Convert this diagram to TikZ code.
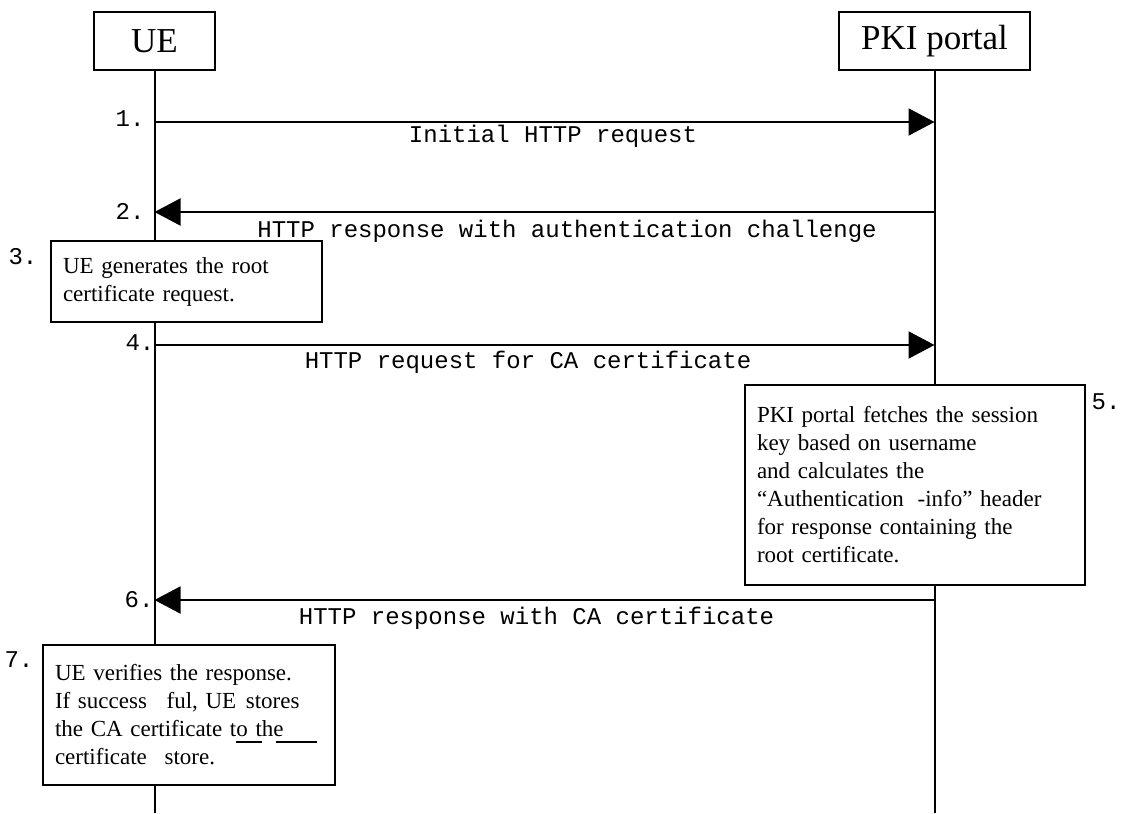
\documentclass[tikz,border=0pt]{standalone}
\usepackage{fontspec}
\setmainfont{Liberation Serif}
\setmonofont{Liberation Mono}
\usetikzlibrary{arrows.meta}

\begin{document}
\begin{tikzpicture}[x=0.5pt,y=-0.5pt,
  actor/.style={draw, line width=1pt, minimum height=29pt, inner sep=0pt, font=\fontsize{17.5}{20}\selectfont},
  msg/.style={line width=1pt, -{Triangle[length=13pt,width=13.5pt]}},
  msgtext/.style={inner sep=0pt, anchor=north, font=\ttfamily\fontsize{12}{14}\selectfont},
  stepno/.style={inner sep=0pt, font=\ttfamily\fontsize{12}{14}\selectfont},
  note/.style={draw, fill=white, line width=1pt, align=left, inner ysep=0pt, inner xsep=6pt,
    font=\fontsize{11.5}{14}\selectfont}]

\useasboundingbox (0,0) rectangle (1128,813);

% actors and lifelines
\node[actor, minimum width=60.5pt] (ue) at (154.5,41) {UE};
\node[actor, minimum width=95.5pt] (pki) at (934.5,41) {PKI portal};
\coordinate (bot) at (0,813);
\draw[line width=1pt] (ue.south) -- (ue.south |- bot);
\draw[line width=1pt] (pki.south) -- (pki.south |- bot);

% message rows
\coordinate (r1) at (0,122);
\coordinate (r2) at (0,212);
\coordinate (r4) at (0,345);
\coordinate (r6) at (0,600);

% 1.
\node[stepno] (n1) at (130,119) {1.};
\draw[msg] (ue |- r1) -- (pki |- r1);
\node[msgtext] (l1) at (553,125) {Initial HTTP request};

% 2.
\node[stepno] (n2) at (130,211) {2.};
\draw[msg] (pki |- r2) -- (ue |- r2);
\node[msgtext] (l2) at (567,220) {HTTP response with authentication challenge};

% 3.
\node[stepno] (n3) at (23,257) {3.};
\node[note, minimum width=135.5pt, minimum height=40.5pt, text width=123.5pt] (s3) at (186.5,281.5)
  {UE generates the root\\certificate request.};

% 4.
\node[stepno] (n4) at (140,343) {4.};
\draw[msg] (ue |- r4) -- (pki |- r4);
\node[msgtext] (l4) at (528,351) {HTTP request for CA certificate};

% 5.
\node[stepno] (n5) at (1106,402) {5.};
\node[note, minimum width=170pt, minimum height=100pt, text width=158pt] (s5) at (915,485)
  {PKI portal fetches the session\\key based on username\\and calculates the\\
   “Authentication\hspace{3pt} -info” header\\for response containing the\\root certificate.};

% 6.
\node[stepno] (n6) at (139,600) {6.};
\draw[msg] (pki |- r6) -- (ue |- r6);
\node[msgtext] (l6) at (536.5,607) {HTTP response with CA certificate};

% 7.
\node[stepno] (n7) at (19,660) {7.};
\node[note, minimum width=146pt, minimum height=70pt, text width=134pt] (s7) at (189,715)
  {UE verifies the response.\\If success\hspace{6pt} ful, UE\hspace{1pt} stores\\
   the CA certificate to the\\certificate\hspace{5pt} store.};
\draw[line width=1pt] (236,742) -- (262,742);
\draw[line width=1pt] (276,742) -- (317,742);

\end{tikzpicture}
\end{document}
